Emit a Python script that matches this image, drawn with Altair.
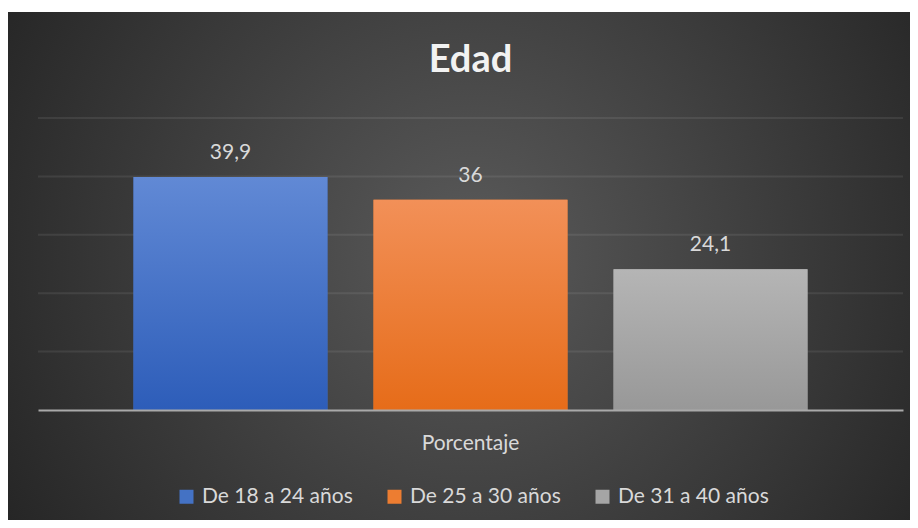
import altair as alt
import pandas as pd

# ---- data ----
title_text = "Edad"
category = "Porcentaje"
series = ["De 18 a 24 años", "De 25 a 30 años", "De 31 a 40 años"]
values = [39.9, 36, 24.1]
labels = ["39,9", "36", "24,1"]
grid_ticks = [10, 20, 30, 40, 50]

solid_colors = ["#4472C4", "#ED7D31", "#A5A5A5"]
grad_tops = ["#6189D5", "#F29058", "#B5B5B5"]
grad_bottoms = ["#2D5DB9", "#E66C19", "#989898"]

FONT = "Lato"
W, H = 865, 292

df = pd.DataFrame({"cat": [category] * 3, "series": series, "value": values, "label": labels})
grid_df = pd.DataFrame({"v": grid_ticks})
title_df = pd.DataFrame({"t": [title_text]})

x_enc = alt.X("cat:N", scale=alt.Scale(paddingInner=0, paddingOuter=0.1417),
              axis=alt.Axis(title=None, labelAngle=0, ticks=False, tickSize=0,
                            domain=True, domainColor="#a9a9a9", domainWidth=2,
                            labelFont=FONT, labelFontSize=21, labelColor="#d9d9d9",
                            labelPadding=39, labelBaseline="alphabetic", zindex=1))
xo_enc = alt.XOffset("series:N", sort=series,
                     scale=alt.Scale(domain=series, paddingInner=0.192, paddingOuter=0))
y_scale = alt.Scale(domain=[0, 50], nice=False, zero=True)

bg = alt.Chart(alt.Data(values=[{"bg": 1}])).mark_rect(
    fill={"gradient": "radial",
          "stops": [{"offset": 0, "color": "#5a5a5a"}, {"offset": 1, "color": "#252525"}],
          "x1": 0.51, "y1": 0.48, "r1": 0, "x2": 0.51, "y2": 0.48, "r2": 0.6}
).encode(x=alt.value(-30), x2=alt.value(880), y=alt.value(-106), y2=alt.value(410))

grid = alt.Chart(grid_df).mark_rule(color="white", opacity=0.08, strokeWidth=2).encode(
    y=alt.Y("v:Q", scale=y_scale, axis=None), x=alt.value(0), x2=alt.value(W))

base_bars = alt.Chart(df).mark_bar().encode(
    x=x_enc, xOffset=xo_enc,
    y=alt.Y("value:Q", scale=y_scale, axis=None),
    color=alt.Color("series:N", sort=series,
                    scale=alt.Scale(domain=series, range=solid_colors),
                    legend=alt.Legend(orient="none", direction="horizontal", title=None,
                                      legendX=138, legendY=368, padding=0,
                                      symbolType="square", symbolSize=196, symbolStrokeWidth=0,
                                      labelFont=FONT, labelFontSize=21, labelColor="#d9d9d9",
                                      labelOffset=5, columnPadding=31)),
)

overlays = []
for s, t, b in zip(series, grad_tops, grad_bottoms):
    overlays.append(
        alt.Chart(df).transform_filter(alt.datum.series == s).mark_bar(
            fill={"gradient": "linear", "x1": 0, "y1": 0, "x2": 0, "y2": 1,
                  "stops": [{"offset": 0, "color": t}, {"offset": 1, "color": b}]}
        ).encode(x=x_enc, xOffset=xo_enc, y=alt.Y("value:Q", scale=y_scale, axis=None))
    )

text = alt.Chart(df).mark_text(baseline="alphabetic", dy=-18, font=FONT, fontSize=21,
                               color="#d9d9d9").encode(
    x=x_enc, xOffset=xo_enc, y=alt.Y("value:Q", scale=y_scale, axis=None), text="label:N")

title = alt.Chart(title_df).mark_text(
    baseline="alphabetic", align="center", font=FONT, fontSize=38, fontWeight="bold",
    color="#f2f2f2"
).encode(x=alt.value(W / 2), y=alt.value(-46), text="t:N")

chart = alt.layer(bg, grid, base_bars, *overlays, text, title).properties(
    width=W, height=H,
    autosize=alt.AutoSizeParams(type="none"),
    padding={"left": 30, "top": 110, "right": 7, "bottom": 110},
).configure_view(stroke=None)

chart.save("out.html", embed_options={"renderer": "svg", "actions": False})
